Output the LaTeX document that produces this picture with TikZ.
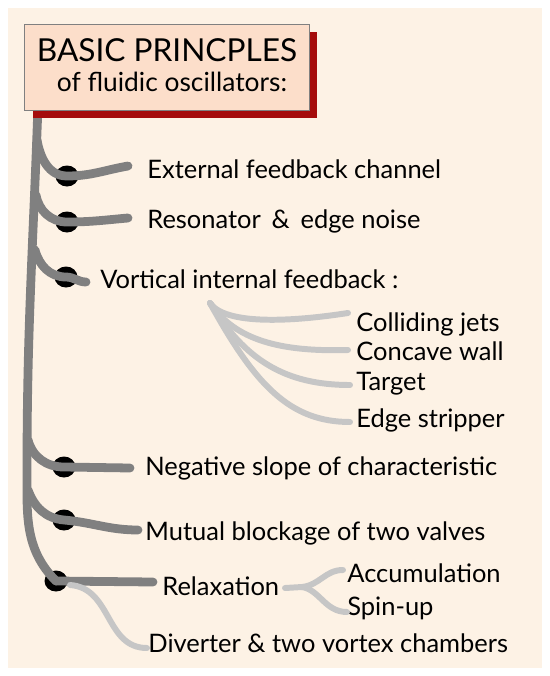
\documentclass[tikz,border=0pt]{standalone}
\usepackage{fontspec}
\setmainfont{Lato}
\usetikzlibrary{shapes,shadows}

\definecolor{bgpeach}{RGB}{253,242,229}
\definecolor{boxpeach}{RGB}{252,222,202}
\definecolor{shadowred}{RGB}{165,12,12}
\definecolor{stemgray}{RGB}{128,128,128}
\definecolor{twiggray}{RGB}{198,198,198}

\begin{document}
\begin{tikzpicture}[x=0.02cm,y=-0.02cm,
    stem/.style={draw=stemgray,line width=5pt,line cap=round},
    twig/.style={draw=twiggray,line width=3.4pt,line cap=round},
    blob/.style={ellipse,fill=black,inner sep=0pt,minimum width=0.46cm,minimum height=0.42cm},
    lbl/.style={anchor=base west,inner sep=0pt,font=\fontsize{14.5}{16}\selectfont}]
  \useasboundingbox (0,0) rectangle (550,676);
  \fill[bgpeach] (8,8) rectangle (542,668);

  % main stem
  \coordinate (top) at (38,105);
  \coordinate (mid) at (27,470);
  \node[blob] (d1) at (67,176) {};
  \node[blob] (d2) at (67,222) {};
  \node[blob] (d3) at (66,277) {};
  \node[blob] (d4) at (64,467) {};
  \node[blob] (d5) at (64,520) {};
  \node[blob] (d6) at (56,581) {};
  \draw[stem] (top) to[out=-92,in=90] (mid) to[out=-90,in=135] (d6.center);

  % title
  \node[draw=gray,fill=boxpeach,minimum width=5.7cm,minimum height=1.72cm,
        drop shadow={fill=shadowred,opacity=1,shadow xshift=0.16cm,shadow yshift=-0.16cm}]
        (title) at (167,67) {};
  \node (t1) at (167,50) {\fontsize{18}{20}\selectfont BASIC PRINCPLES};
  \node (t2) at (172,82) {\fontsize{15}{17}\selectfont of fluidic oscillators:};

  % labels
  \node[lbl] (ext) at (147,178) {External feedback channel};
  \node[lbl] (res) at (147,228) {Resonator \,\&\, edge noise};
  \node[lbl] (vor) at (100,288) {Vortical internal feedback :};
  \node[lbl] (col) at (356,331) {Colliding jets};
  \node[lbl] (con) at (356,360) {Concave wall};
  \node[lbl] (tar) at (356,390) {Target};
  \node[lbl] (edg) at (356,427) {Edge stripper};
  \node[lbl] (neg) at (145,475) {Negative slope of characteristic};
  \node[lbl] (mut) at (145,540) {Mutual blockage of two valves};
  \node[lbl] (rel) at (162,595) {Relaxation};
  \node[lbl] (acc) at (347,582) {Accumulation};
  \node[lbl] (spi) at (347,615) {Spin-up};
  \node[lbl] (div) at (148,652) {Diverter \& two vortex chambers};

  % branch points
  \coordinate (s1) at (37,140);
  \coordinate (s2) at (36,195);
  \coordinate (s3) at (35,250);
  \coordinate (s4) at (28,440);
  \coordinate (s5) at (28,490);
  \coordinate (e1) at (128,166);
  \coordinate (e2) at (128,218);
  \coordinate (e3) at (86,282);
  \coordinate (e4) at (130,468);
  \coordinate (e5) at (138,530);
  \coordinate (e6) at (153,582);

  \draw[stem] (s1) to[out=-80,in=180] (d1.center) to[out=0,in=190] (e1);
  \draw[stem] (s2) to[out=-80,in=180] (d2.center) to[out=0,in=185] (e2);
  \draw[stem] (s3) to[out=-75,in=180] (d3.center) to[out=0,in=180] (e3);
  \draw[stem] (s4) to[out=-75,in=180] (d4.center) -- (e4);
  \draw[stem] (s5) to[out=-70,in=175] (d5.center) to[out=-5,in=180] (e5);
  \draw[stem] (d6.center) -- (e6);

  % vortical sub-branches
  \coordinate (v0) at (210,303);
  \coordinate (vc) at (348,313);
  \coordinate (vw) at (348,350);
  \coordinate (vt) at (350,385);
  \coordinate (ve) at (350,422);
  \draw[twig] (v0) .. controls (225,325) and (290,322) .. (vc);
  \draw[twig] (v0) .. controls (235,340) and (280,352) .. (vw);
  \draw[twig] (v0) .. controls (245,360) and (285,385) .. (vt);
  \draw[twig] (v0) .. controls (255,385) and (290,422) .. (ve);

  % relaxation
  \coordinate (r0) at (285,588);
  \coordinate (r1) at (302,587);
  \coordinate (ra) at (343,570);
  \coordinate (rs) at (347,612);
  \draw[twig] (r0) -- (r1) .. controls (320,585) and (325,570) .. (ra);
  \draw[twig] (r1) .. controls (320,590) and (325,612) .. (rs);

  % diverter
  \coordinate (dv) at (70,585);
  \coordinate (dw) at (147,648);
  \draw[twig] (dv) .. controls (112,588) and (105,648) .. (dw);
\end{tikzpicture}
\end{document}
